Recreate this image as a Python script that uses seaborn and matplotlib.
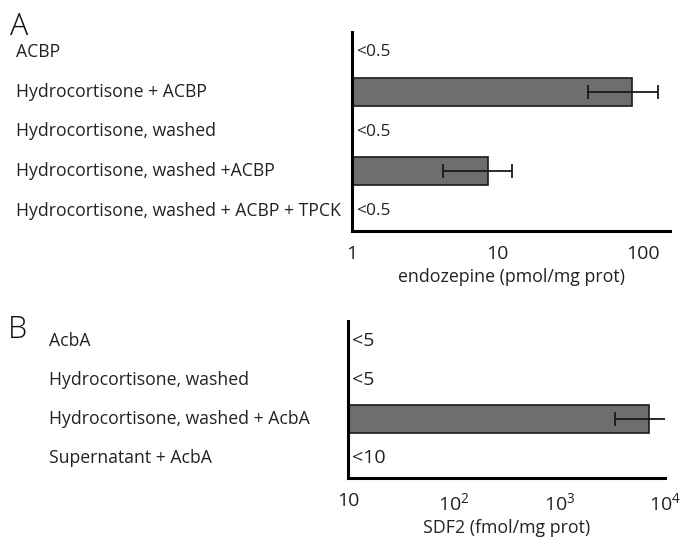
import matplotlib
matplotlib.use("Agg")
import matplotlib.pyplot as plt
import matplotlib.transforms as mtransforms
from matplotlib.ticker import FixedLocator, NullLocator, FixedFormatter
import seaborn as sns
import pandas as pd
import numpy as np

sns.set_style("white")
plt.rcParams['font.family'] = ['Open Sans', 'DejaVu Sans']
plt.rcParams['mathtext.fontset'] = 'custom'
plt.rcParams['mathtext.rm'] = 'Open Sans'
plt.rcParams['mathtext.it'] = 'Open Sans'

# Panel A data
a_labels = ["ACBP", "Hydrocortisone + ACBP", "Hydrocortisone, washed",
            "Hydrocortisone, washed +ACBP", "Hydrocortisone, washed + ACBP + TPCK"]
a_values = [np.nan, 84, np.nan, 8.6, np.nan]
a_err_low = [np.nan, 42, np.nan, 4.2, np.nan]
a_err_high = [np.nan, 127, np.nan, 12.6, np.nan]
a_notes = ["<0.5", "", "<0.5", "", "<0.5"]
a_ticks = [1, 10, 100]
a_ticklabels = ["1", "10", "100"]

# Panel B data
b_labels = ["AcbA", "Hydrocortisone, washed", "Hydrocortisone, washed + AcbA",
            "Supernatant + AcbA"]
b_values = [np.nan, np.nan, 7050, np.nan]
b_err_low = [np.nan, np.nan, 3400, np.nan]
b_err_high = [np.nan, np.nan, 10400, np.nan]
b_notes = ["<5", "<5", "", "<10"]
b_ticks = [10, 100, 1000, 10000]
b_ticklabels = ["10", "$10^2$", "$10^3$", "$10^4$"]

W, H = 681, 542
fig = plt.figure(figsize=(W / 100, H / 100), dpi=100)

def px_axes(l, t, r, b):
    return fig.add_axes([l / W, 1 - b / H, (r - l) / W, (b - t) / H])

def panel(ax, labels, values, lo, hi, notes, ticks, ticklabels, xlim, xlabel,
          label_x, letter, letter_xy, note_size):
    df = pd.DataFrame({"cond": labels, "val": values})
    sns.barplot(data=df, y="cond", x="val", order=labels, orient="h",
                color="#6e6e6e", saturation=1, edgecolor="#1a1a1a",
                linewidth=1.2, width=0.7, errorbar=None, ax=ax, log_scale=True)
    vals = np.array(values, dtype=float)
    ys = np.arange(len(labels))
    m = ~np.isnan(vals)
    xerr = np.vstack([vals[m] - np.array(lo)[m], np.array(hi)[m] - vals[m]])
    ax.errorbar(vals[m], ys[m], xerr=xerr, fmt="none", ecolor="#1a1a1a",
                elinewidth=1.3, capsize=5, capthick=1.3)
    ax.set_xscale("log")
    ax.set_xlim(*xlim)
    ax.set_ylim(len(labels) - 0.5, -0.5)
    ax.xaxis.set_major_locator(FixedLocator(ticks))
    ax.xaxis.set_major_formatter(FixedFormatter(ticklabels))
    ax.xaxis.set_minor_locator(NullLocator())
    ax.tick_params(axis="x", which="major", direction="out", length=7,
                   width=2, labelsize=14, pad=3, color="black",
                   labelcolor="#222222")
    ax.set_yticks([])
    ax.set_ylabel("")
    ax.set_xlabel(xlabel, fontsize=12.8, labelpad=4, color="#222222")
    for s in ["top", "right"]:
        ax.spines[s].set_visible(False)
    for s in ["left", "bottom"]:
        ax.spines[s].set_linewidth(2.2)
        ax.spines[s].set_color("black")
    trans = mtransforms.blended_transform_factory(fig.transFigure, ax.transData)
    for y, lab in zip(ys, labels):
        fig.text(label_x / W, y, lab, transform=trans, ha="left", va="center",
                 fontsize=12.7, color="#222222")
    for y, note in zip(ys, notes):
        if note:
            ax.text(0.012, y, note, transform=mtransforms.blended_transform_factory(
                ax.transAxes, ax.transData), ha="left", va="center",
                fontsize=note_size, color="#222222")
    fig.text(letter_xy[0] / W, 1 - letter_xy[1] / H, letter, fontsize=22,
             ha="left", va="center", color="#111111", fontweight="light")

axA = px_axes(352, 32, 670, 231)
panel(axA, a_labels, a_values, a_err_low, a_err_high, a_notes, a_ticks,
      a_ticklabels, (1, 153), "endozepine (pmol/mg prot)", 16, "A", (10, 27),
      12.5)

axB = px_axes(348, 321, 665, 478)
panel(axB, b_labels, b_values, b_err_low, b_err_high, b_notes, b_ticks,
      b_ticklabels, (10, 10000), "SDF2 (fmol/mg prot)", 49, "B", (8, 330),
      14)

fig.savefig("out.png", dpi=100)
